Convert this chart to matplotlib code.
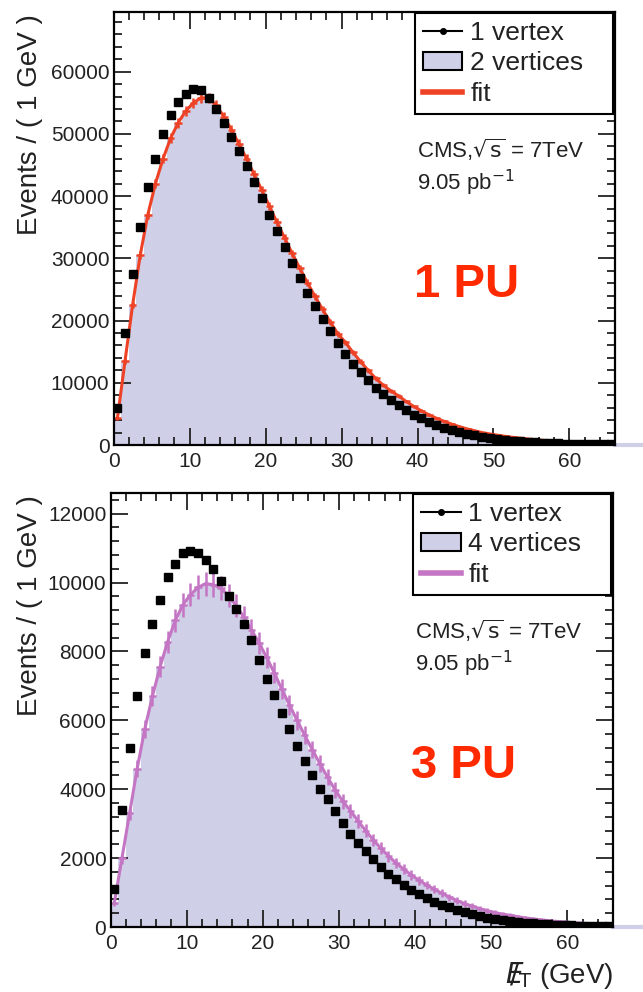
import numpy as np
import matplotlib.pyplot as plt
from matplotlib.lines import Line2D
from matplotlib.patches import Patch
from matplotlib.ticker import MultipleLocator

plt.rcParams['font.family'] = ['Liberation Sans', 'DejaVu Sans']

# MET bins, 1 GeV wide
bin_edges = np.arange(0, 67)
bin_centers = bin_edges[:-1] + 0.5

# ---- top panel: 1 vertex vs 2 vertices ----
one_vtx_top = [5900, 18000, 27500, 35000, 41500, 46000, 50000, 53000, 55200, 56500,
               57200, 57000, 55800, 54000, 51800, 49500, 47200, 44800, 42200, 39700,
               37000, 34400, 31800, 29300, 26900, 24500, 22300, 20200, 18300, 16400,
               14700, 13100, 11700, 10400, 9200, 8200, 7300, 6400, 5600, 4900,
               4300, 3750, 3250, 2800, 2450, 2100, 1800, 1550, 1330, 1140,
               980, 840, 720, 610, 520, 445, 380, 325, 275, 235,
               200, 170, 145, 125, 105, 90]
two_vtx_top = [4300, 13500, 22500, 30500, 37000, 42000, 46000, 49300, 51800, 53700,
               55000, 55800, 55800, 54600, 52800, 50700, 48400, 46000, 43500, 41000,
               38400, 35800, 33300, 30800, 28400, 26100, 23900, 21800, 19800, 17900,
               16500, 14900, 13400, 12000, 10700, 9600, 8700, 7900, 7000, 6200,
               5500, 4850, 4300, 3800, 3350, 2950, 2600, 2300, 2000, 1780,
               1580, 1400, 1240, 1100, 970, 860, 760, 670, 590, 520,
               460, 410, 360, 320, 280, 250]

# ---- bottom panel: 1 vertex vs 4 vertices ----
one_vtx_bot = [1100, 3400, 5200, 6700, 7950, 8800, 9500, 10150, 10550, 10850,
               10920, 10870, 10650, 10380, 10050, 9620, 9230, 8790, 8330, 7750,
               7210, 6740, 6200, 5740, 5260, 4820, 4400, 4000, 3720, 3370,
               3030, 2700, 2450, 2210, 1980, 1750, 1550, 1380, 1220, 1080,
               950, 840, 740, 650, 570, 500, 430, 370, 320, 275,
               235, 200, 170, 145, 125, 105, 90, 78, 66, 57,
               49, 42, 36, 31, 27, 23]
four_vtx_bot = [700, 2000, 3300, 4600, 5750, 6700, 7550, 8280, 8900, 9350,
                9650, 9860, 9970, 9940, 9830, 9620, 9330, 9000, 8630, 8250,
                7830, 7380, 6900, 6450, 6000, 5570, 5150, 4740, 4350, 3980,
                3650, 3380, 3080, 2800, 2530, 2290, 2060, 1860, 1680, 1510,
                1360, 1220, 1100, 980, 870, 770, 680, 605, 535, 475,
                420, 375, 335, 300, 265, 235, 210, 185, 165, 148,
                132, 118, 106, 95, 85, 76]

panels = [
    dict(data=one_vtx_top, mc=two_vtx_top, label='2 vertices', fit_color='#ee4226',
         pu='1 PU', ymax=69600, major=10000, minor=2000,
         rect=[0.1767, 0.5514, 0.7798, 0.4365], leg_x=0.601, ylab_x=-0.167),
    dict(data=one_vtx_bot, mc=four_vtx_bot, label='4 vertices', fit_color='#c476c4',
         pu='3 PU', ymax=12600, major=2000, minor=400,
         rect=[0.1719, 0.0655, 0.7815, 0.4375], leg_x=0.602, ylab_x=-0.160),
]

fill_color = '#cfcfe8'
pu_red = '#ff2a00'

fig = plt.figure(figsize=(6.43, 9.92), dpi=100)

for i, p in enumerate(panels):
    ax = fig.add_axes(p['rect'])
    data = np.array(p['data'], dtype=float)
    mc = np.array(p['mc'], dtype=float)

    ax.stairs(mc, bin_edges, fill=True, color=fill_color, lw=0, zorder=1)
    ax.errorbar(bin_centers, mc, xerr=0.5, yerr=3.5 * np.sqrt(mc), fmt='-',
                color=p['fit_color'], lw=2.2, elinewidth=1.8, capsize=0, zorder=2)
    ax.errorbar(bin_centers, data, yerr=np.sqrt(data), fmt='s', color='black',
                ms=5.3, elinewidth=1, capsize=0, zorder=3)

    ax.set_xlim(0, 66)
    ax.set_ylim(0, p['ymax'])
    ax.xaxis.set_major_locator(MultipleLocator(10))
    ax.xaxis.set_minor_locator(MultipleLocator(2))
    ax.yaxis.set_major_locator(MultipleLocator(p['major']))
    ax.yaxis.set_minor_locator(MultipleLocator(p['minor']))
    ax.tick_params(which='both', direction='in', top=True, right=True,
                   width=1.3, labelsize=15, colors='#222222')
    ax.tick_params(which='major', length=12)
    ax.tick_params(which='minor', length=6)
    ax.tick_params(axis='y', pad=3)
    ax.tick_params(axis='x', pad=5)
    for s in ax.spines.values():
        s.set_linewidth(1.6)

    ax.set_ylabel('Events / ( 1 GeV )', fontsize=20, color='#222222')
    ax.yaxis.label.set_rotation_mode('default')
    ax.yaxis.label.set_ha('center')
    ax.yaxis.label.set_va('top')
    ax.yaxis.set_label_coords(p['ylab_x'], 0.995)

    # lavender fill running past the frame at the baseline
    ax.plot([1.0, 1.06], [0.0, 0.0], transform=ax.transAxes, color=fill_color,
            lw=3, clip_on=False, zorder=0)

    handles = [
        Line2D([], [], color='black', marker='o', ms=4, lw=1.5),
        Patch(facecolor=fill_color, edgecolor='black', lw=1.5),
        Line2D([], [], color=p['fit_color'], lw=4),
    ]
    leg = ax.legend(handles, ['1 vertex', p['label'], 'fit'], loc='upper left',
                    bbox_to_anchor=(p['leg_x'], 0.748, 0.995 - p['leg_x'], 0.25),
                    mode='expand', borderaxespad=0, fontsize=19, fancybox=False,
                    framealpha=1, edgecolor='black', handlelength=1.5,
                    handletextpad=0.3, labelspacing=0.25, borderpad=0.3)
    leg.get_frame().set_linewidth(1.5)
    for t in leg.get_texts():
        t.set_color('#222222')

    tx = p['leg_x'] + 0.004
    ax.text(tx, 0.682, r'CMS,$\sqrt{\mathrm{s}}$ = 7TeV', transform=ax.transAxes,
            fontsize=16, va='center', ha='left', color='#222222')
    ax.text(tx, 0.606, r'9.05 pb$^{-1}$', transform=ax.transAxes,
            fontsize=16, va='center', ha='left', color='#222222')
    ax.text(0.703, 0.37, p['pu'], transform=ax.transAxes, fontsize=34,
            fontweight='bold', color=pu_red, ha='center', va='center')

    if i == 1:
        ax.set_xlabel(r'$E\!\!\!/_{\rm T}$ (GeV)', fontsize=20, color='#222222',
                      loc='right')
        ax.xaxis.set_label_coords(1.0, -0.112)
        ax.xaxis.label.set_va('center')

fig.savefig('out.png', dpi=100)
